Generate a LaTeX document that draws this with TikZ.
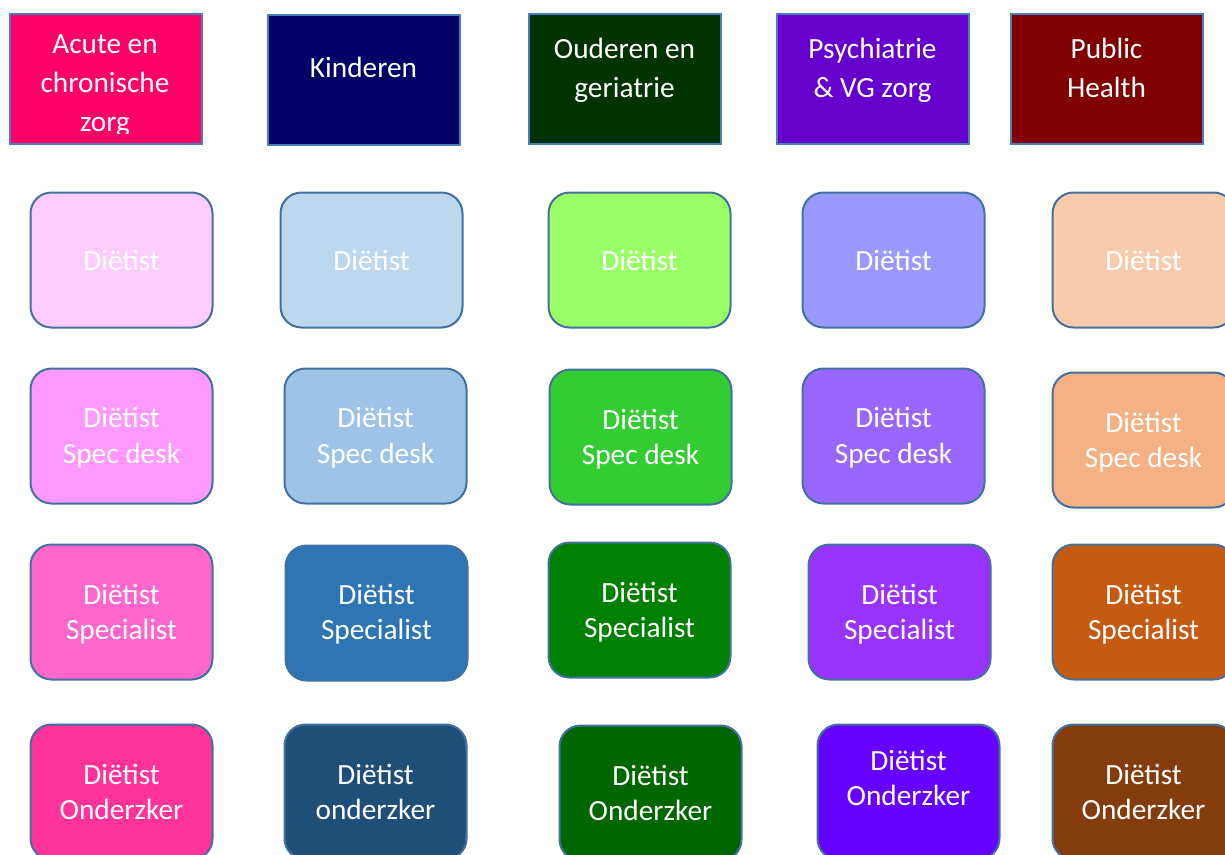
\documentclass[tikz,border=0pt]{standalone}
\usepackage{fontspec}
\setmainfont{Carlito}
\definecolor{bordA}{HTML}{4A7EBB}
\definecolor{bordB}{HTML}{41719C}
\definecolor{cA}{HTML}{FF0066}
\definecolor{cK}{HTML}{000066}
\definecolor{cO}{HTML}{003300}
\definecolor{cP}{HTML}{6600CC}
\definecolor{cH}{HTML}{800000}
\definecolor{r2a}{HTML}{FFCCFF}\definecolor{r2b}{HTML}{BDD7EE}\definecolor{r2c}{HTML}{99FF66}\definecolor{r2d}{HTML}{9999FF}\definecolor{r2e}{HTML}{F8CBAD}
\definecolor{r3a}{HTML}{FF99FF}\definecolor{r3b}{HTML}{9DC3E6}\definecolor{r3c}{HTML}{33CC33}\definecolor{r3d}{HTML}{9966FF}\definecolor{r3e}{HTML}{F4B183}
\definecolor{r4a}{HTML}{FF66CC}\definecolor{r4b}{HTML}{2E75B6}\definecolor{r4c}{HTML}{008000}\definecolor{r4d}{HTML}{9933FF}\definecolor{r4e}{HTML}{C55A11}
\definecolor{r5a}{HTML}{FF3399}\definecolor{r5b}{HTML}{1F4E79}\definecolor{r5c}{HTML}{006600}\definecolor{r5d}{HTML}{6600FF}\definecolor{r5e}{HTML}{843C0C}
\tikzset{
  headbox/.style={draw=bordA, line width=2pt, minimum width=192pt, minimum height=130pt, inner sep=0pt},
  rolebox/.style={draw=bordB, line width=2pt, rounded corners=21pt, minimum width=182pt, minimum height=135pt, inner sep=0pt},
  headtxt/.style={text=white, align=center, inner sep=0pt, font=\fontsize{29.3}{39}\selectfont},
  roletxt/.style={text=white, align=center, inner sep=0pt, font=\fontsize{29.3}{35.5}\selectfont}
}
\begin{document}
\begin{tikzpicture}[x=1pt,y=-1pt]
\useasboundingbox (0,0) rectangle (1225,854);
\clip (0,0) rectangle (1225,854);
% header boxes
\node[headbox, fill=cA] (hA) at (106,79) {};
\node[headbox, fill=cK] (hK) at (363.5,79.5) {};
\node[headbox, fill=cO] (hO) at (624.5,78.5) {};
\node[headbox, fill=cP] (hP) at (872.5,78.5) {};
\node[headbox, fill=cH] (hH) at (1106.5,78.5) {};
\begin{scope}
\clip (hA.north west) rectangle (hA.east |- 0,133);
\node[headtxt] (tA) at (105,84.2) {\strut Acute en\\\strut chronische\\\strut zorg};
\end{scope}
\node[headtxt] (tK) at (363.5,69.2) {\strut Kinderen};
\node[headtxt] (tO) at (624.5,69.7) {\strut Ouderen en\\\strut geriatrie};
\node[headtxt] (tP) at (872.5,69.7) {\strut Psychiatrie\\\strut \& VG zorg};
\node[headtxt] (tH) at (1106.5,69.7) {\strut Public\\\strut Health};
% row 2
\node[rolebox, fill=r2a] (b2a) at (121.5,260) {};
\node[rolebox, fill=r2b] (b2b) at (371.5,260) {};
\node[rolebox, fill=r2c] (b2c) at (639.5,260) {};
\node[rolebox, fill=r2d] (b2d) at (893.5,260) {};
\node[rolebox, fill=r2e] (b2e) at (1143.5,260) {};
\node[roletxt] (t2a) at (121.5,263) {\strut Diëtist};
\node[roletxt] (t2b) at (371.5,263) {\strut Diëtist};
\node[roletxt] (t2c) at (639.5,263) {\strut Diëtist};
\node[roletxt] (t2d) at (893.5,263) {\strut Diëtist};
\node[roletxt] (t2e) at (1143.5,263) {\strut Diëtist};
% row 3
\node[rolebox, fill=r3a] (b3a) at (121.5,436) {};
\node[rolebox, fill=r3b] (b3b) at (375.5,436) {};
\node[rolebox, fill=r3c] (b3c) at (640.5,437) {};
\node[rolebox, fill=r3d] (b3d) at (893.5,436) {};
\node[rolebox, fill=r3e] (b3e) at (1143.5,440) {};
\node[roletxt] (t3a) at (121.5,438.5) {\strut Diëtist\\\strut Spec desk};
\node[roletxt] (t3b) at (375.5,438.5) {\strut Diëtist\\\strut Spec desk};
\node[roletxt] (t3c) at (640.5,440) {\strut Diëtist\\\strut Spec desk};
\node[roletxt] (t3d) at (893.5,438.5) {\strut Diëtist\\\strut Spec desk};
\node[roletxt] (t3e) at (1143.5,443) {\strut Diëtist\\\strut Spec desk};
% row 4
\node[rolebox, fill=r4a] (b4a) at (121.5,612) {};
\node[rolebox, fill=r4b] (b4b) at (376.5,613) {};
\node[rolebox, fill=r4c] (b4c) at (639.5,610) {};
\node[rolebox, fill=r4d] (b4d) at (899.5,612) {};
\node[rolebox, fill=r4e] (b4e) at (1143.5,612) {};
\node[roletxt] (t4a) at (121.5,615) {\strut Diëtist\\\strut Specialist};
\node[roletxt] (t4b) at (376.5,615) {\strut Diëtist\\\strut Specialist};
\node[roletxt] (t4c) at (639.5,613) {\strut Diëtist\\\strut Specialist};
\node[roletxt] (t4d) at (899.5,615) {\strut Diëtist\\\strut Specialist};
\node[roletxt] (t4e) at (1143.5,615) {\strut Diëtist\\\strut Specialist};
% row 5
\node[rolebox, fill=r5a] (b5a) at (121.5,792) {};
\node[rolebox, fill=r5b] (b5b) at (375.5,792) {};
\node[rolebox, fill=r5c] (b5c) at (650.5,793) {};
\node[rolebox, fill=r5d] (b5d) at (908.5,792) {};
\node[rolebox, fill=r5e] (b5e) at (1143.5,792) {};
\node[roletxt] (t5a) at (121.5,795) {\strut Diëtist\\\strut Onderzker};
\node[roletxt] (t5b) at (375.5,795) {\strut Diëtist\\\strut onderzker};
\node[roletxt] (t5c) at (650.5,796) {\strut Diëtist\\\strut Onderzker};
\node[roletxt] (t5d) at (908.5,781) {\strut Diëtist\\\strut Onderzker};
\node[roletxt] (t5e) at (1143.5,795) {\strut Diëtist\\\strut Onderzker};
\end{tikzpicture}
\end{document}
